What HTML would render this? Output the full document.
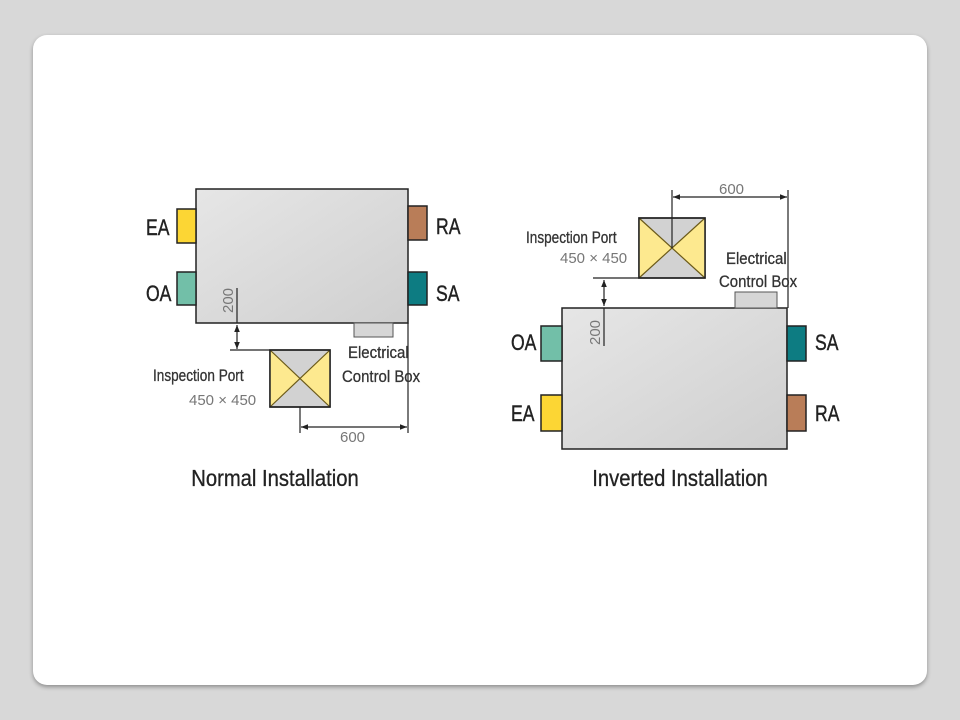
<!DOCTYPE html>
<html><head><style>
body{margin:0;width:960px;height:720px;background:#d8d8d8;overflow:hidden}
.card{position:absolute;left:33px;top:35px;width:894px;height:650px;background:#fff;border-radius:14px;box-shadow:0 2px 4px rgba(0,0,0,.35)}
svg{position:absolute;left:0;top:0}
text{font-family:"Liberation Sans",sans-serif}
</style></head><body>
<div class="card"></div>
<svg width="960" height="720" viewBox="0 0 960 720">
<defs>
<linearGradient id="g" x1="0" y1="0" x2="1" y2="1"><stop offset="0" stop-color="#e6e6e6"/><stop offset="1" stop-color="#cfcfcf"/></linearGradient>
<marker id="a" viewBox="0 0 10 10" refX="10" refY="5" markerWidth="6" markerHeight="6" orient="auto-start-reverse"><path d="M0,1L10,5L0,9z" fill="#222"/></marker>
</defs>
<g stroke="#222" stroke-width="1.5">
<rect x="196" y="189" width="212" height="134" fill="url(#g)"/>
<rect x="177" y="209" width="19" height="34" fill="#fcd634"/>
<rect x="177" y="272" width="19" height="33" fill="#72bfa8"/>
<rect x="408" y="206" width="19" height="34" fill="#b97d58"/>
<rect x="408" y="272" width="19" height="33" fill="#0d7c82"/>
<rect x="354" y="323" width="39" height="14" fill="#d6d6d6" stroke="#555" stroke-width="1"/>
<rect x="270" y="350" width="60" height="57" fill="#d2d2d2"/>
<path d="M270,350L300,378.5L270,407z M330,350L300,378.5L330,407z" fill="#fde98f" stroke="none"/>
<path d="M270,350L330,407M330,350L270,407" stroke="#6b5a1a" stroke-width="1.2"/>
<rect x="270" y="350" width="60" height="57" fill="none"/>
<line x1="230" y1="350" x2="270" y2="350" stroke-width="1.2"/>
<line x1="237" y1="288" x2="237" y2="323" stroke-width="1.2"/>
<line x1="237" y1="325" x2="237" y2="349" stroke-width="1.2" marker-start="url(#a)" marker-end="url(#a)"/>
<line x1="300" y1="407" x2="300" y2="433" stroke-width="1.2"/>
<line x1="408" y1="323" x2="408" y2="433" stroke-width="1.2"/>
<line x1="301" y1="427" x2="407" y2="427" stroke-width="1.2" marker-start="url(#a)" marker-end="url(#a)"/>
<rect x="562" y="308" width="225" height="141" fill="url(#g)"/>
<rect x="541" y="326" width="21" height="35" fill="#72bfa8"/>
<rect x="541" y="395" width="21" height="36" fill="#fcd634"/>
<rect x="787" y="326" width="19" height="35" fill="#0d7c82"/>
<rect x="787" y="395" width="19" height="36" fill="#b97d58"/>
<rect x="735" y="292" width="42" height="16" fill="#d6d6d6" stroke="#555" stroke-width="1"/>
<rect x="639" y="218" width="66" height="60" fill="#d2d2d2"/>
<path d="M639,218L672,248L639,278z M705,218L672,248L705,278z" fill="#fde98f" stroke="none"/>
<path d="M639,218L705,278M705,218L639,278" stroke="#6b5a1a" stroke-width="1.2"/>
<rect x="639" y="218" width="66" height="60" fill="none"/>
<line x1="593" y1="278" x2="639" y2="278" stroke-width="1.2"/>
<line x1="604" y1="280" x2="604" y2="306" stroke-width="1.2" marker-start="url(#a)" marker-end="url(#a)"/>
<line x1="604" y1="308" x2="604" y2="346" stroke-width="1.2"/>
<line x1="672" y1="190" x2="672" y2="248" stroke-width="1.2"/>
<line x1="788" y1="190" x2="788" y2="308" stroke-width="1.2"/>
<line x1="673" y1="197" x2="787" y2="197" stroke-width="1.2" marker-start="url(#a)" marker-end="url(#a)"/>
</g>
<g fill="#222" font-size="22" stroke="#222" stroke-width="0.4">
<text x="146" y="235" transform="translate(146 0) scale(.8 1) translate(-146 0)">EA</text>
<text x="146" y="301" transform="translate(146 0) scale(.8 1) translate(-146 0)">OA</text>
<text x="436" y="234" transform="translate(436 0) scale(.8 1) translate(-436 0)">RA</text>
<text x="436" y="301" transform="translate(436 0) scale(.8 1) translate(-436 0)">SA</text>
<text x="511" y="350" transform="translate(511 0) scale(.8 1) translate(-511 0)">OA</text>
<text x="511" y="421" transform="translate(511 0) scale(.8 1) translate(-511 0)">EA</text>
<text x="815" y="350" transform="translate(815 0) scale(.8 1) translate(-815 0)">SA</text>
<text x="815" y="421" transform="translate(815 0) scale(.8 1) translate(-815 0)">RA</text>
</g>
<g fill="#333" font-size="17" stroke="#333" stroke-width="0.3">
<text x="153" y="381" transform="translate(153 0) scale(.8 1) translate(-153 0)">Inspection Port</text>
<text x="348" y="358" transform="translate(348 0) scale(.88 1) translate(-348 0)">Electrical</text>
<text x="342" y="382" transform="translate(342 0) scale(.88 1) translate(-342 0)">Control Box</text>
<text x="526" y="243" transform="translate(526 0) scale(.8 1) translate(-526 0)">Inspection Port</text>
<text x="726" y="264" transform="translate(726 0) scale(.88 1) translate(-726 0)">Electrical</text>
<text x="719" y="287" transform="translate(719 0) scale(.88 1) translate(-719 0)">Control Box</text>
</g>
<g fill="#777" font-size="15">
<text x="189" y="405">450 × 450</text>
<text x="560" y="263">450 × 450</text>
<text x="340" y="442">600</text>
<text x="719" y="194">600</text>
<text transform="translate(233 313) rotate(-90)">200</text>
<text transform="translate(600 345) rotate(-90)">200</text>
</g>
<g fill="#222" font-size="23" text-anchor="middle" stroke="#222" stroke-width="0.3">
<text x="275" y="486" transform="translate(275 0) scale(.88 1) translate(-275 0)">Normal Installation</text>
<text x="680" y="486" transform="translate(680 0) scale(.88 1) translate(-680 0)">Inverted Installation</text>
</g>
</svg>
</body></html>
